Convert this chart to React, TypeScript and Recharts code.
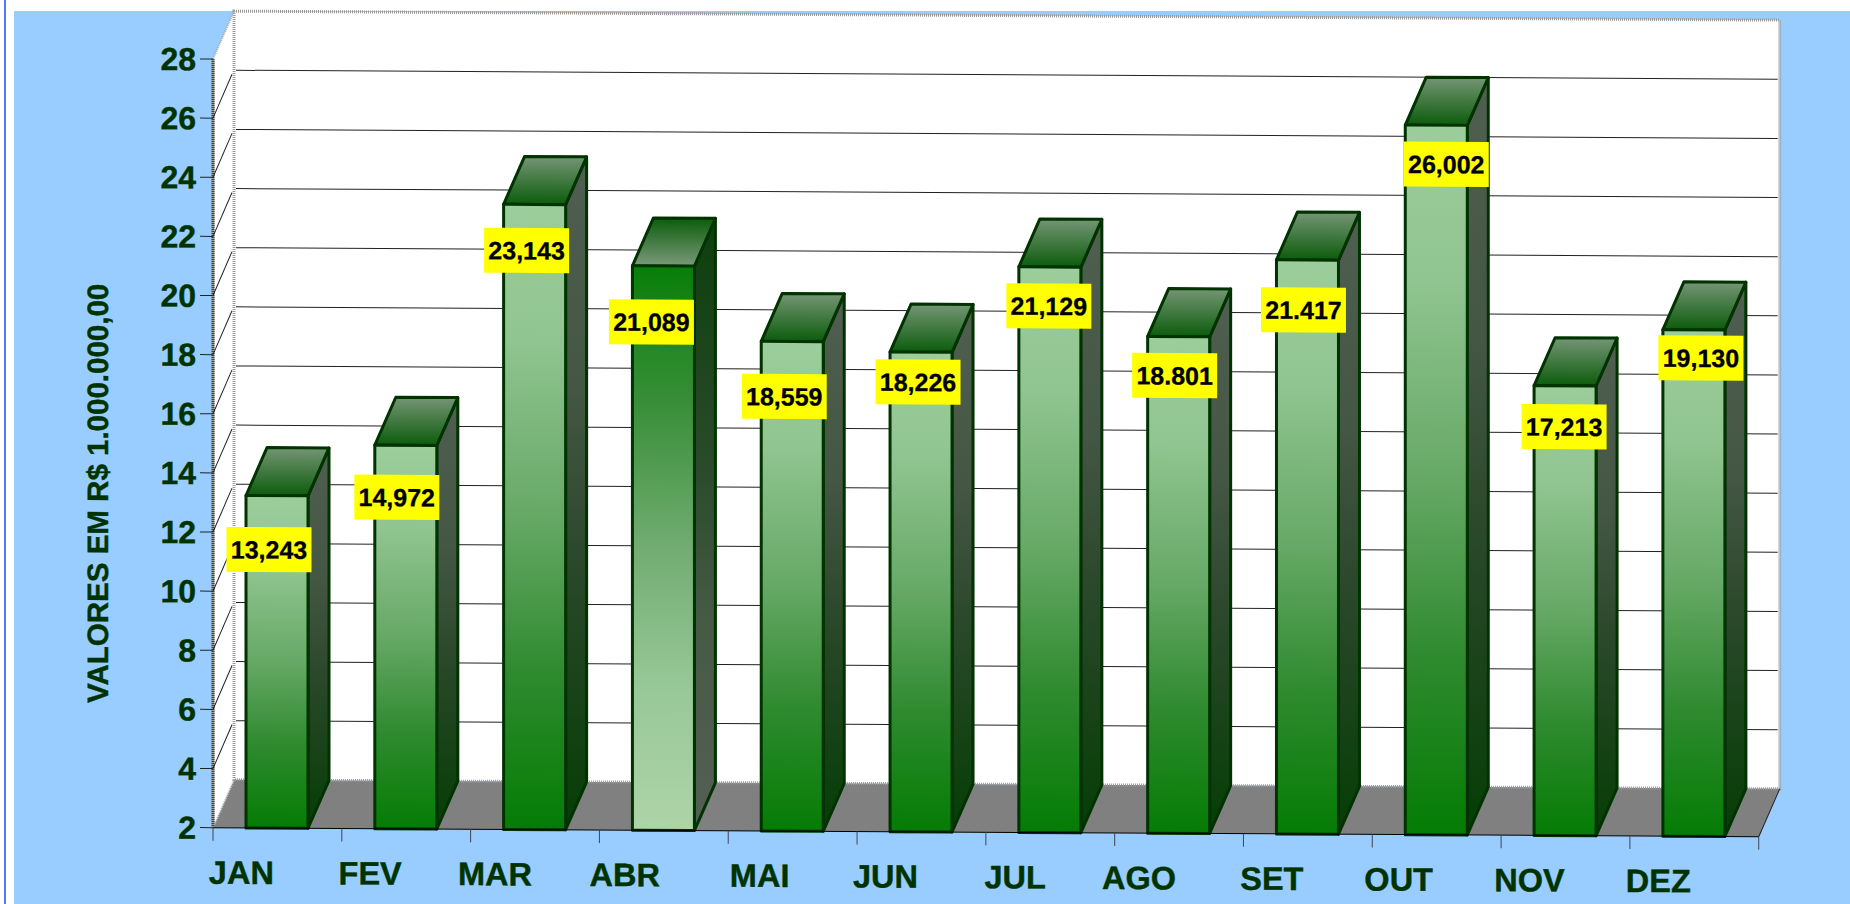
import { BarChart, Bar, XAxis, YAxis, CartesianGrid, ReferenceArea, LabelList } from "recharts"

const months = ["JAN", "FEV", "MAR", "ABR", "MAI", "JUN", "JUL", "AGO", "SET", "OUT", "NOV", "DEZ"]
const values = [13.243, 14.972, 23.143, 21.089, 18.559, 18.226, 21.129, 18.801, 21.417, 26.002, 17.213, 19.13]
const valueLabels = ["13,243", "14,972", "23,143", "21,089", "18,559", "18,226", "21,129", "18.801", "21.417", "26,002", "17,213", "19,130"]
const yTicks = [2, 4, 6, 8, 10, 12, 14, 16, 18, 20, 22, 24, 26, 28]
const gridValues = [4, 6, 8, 10, 12, 14, 16, 18, 20, 22, 24, 26]

// the yellow boxes and month names were dragged by hand in the original, so each has its own nudge
const labelNudgeX = [-8, -9, -8, -12, -8, -3, -1, -4, -4, 10, -1, 7]
const labelNudgeY = [54, 52, 46, 56, 55, 30, 39, 39, 50, 39, 41, 28]
const monthNudgeX = [0, 0, -4, -3, 3, 0, 1, -4, 0, -2, 0, 0]

const data = months.map((month, i) => ({ month, value: values[i], label: valueLabels[i] }))

const WIDTH = 1850
const HEIGHT = 904
const LEFT = 213
const TOP = 59
const RIGHT = 1758.7
const BOTTOM = 827.7
const STEP = (RIGHT - LEFT) / months.length
const DEPTH_X = 21
const DEPTH_Y = 48
const DARK = "#003300"
const FONT = '"Liberation Sans", Arial, sans-serif'

const pts = (list: number[][]) => list.map((p) => p.join(",")).join(" ")

function Walls({ x, y, width, height }: any) {
  const b = y + height
  const r = x + width
  const wx = x + DEPTH_X
  const dotted = { stroke: "#999", strokeWidth: 3, strokeDasharray: "1 1", fill: "none" }
  return (
    <g>
      <polygon points={pts([[x, y], [wx, y - DEPTH_Y], [wx, b - DEPTH_Y], [x, b]])} fill="#fff" />
      <rect x={wx} y={y - DEPTH_Y} width={width} height={height} fill="#fff" />
      <polygon points={pts([[x, b], [wx, b - DEPTH_Y], [r + DEPTH_X, b - DEPTH_Y], [r, b]])} fill="#808080" />
      <rect x={wx} y={y - DEPTH_Y} width={width} height={height} {...dotted} />
      <line x1={x} y1={y} x2={wx} y2={y - DEPTH_Y} stroke="#aaa" strokeWidth={2} strokeDasharray="1 1" />
      <line x1={x} y1={b} x2={wx} y2={b - DEPTH_Y} stroke="#ccc" strokeWidth={2} strokeDasharray="1 1" />
      <line x1={r} y1={b} x2={r + DEPTH_X} y2={b - DEPTH_Y} stroke="#222" strokeWidth={1} />
      <line x1={x} y1={y} x2={x} y2={b} stroke="#999" strokeWidth={3} />
      <line x1={x} y1={y} x2={x} y2={b} stroke="#444" strokeWidth={3} strokeDasharray="1 1" />
    </g>
  )
}

function GridLine({ x1, x2, y1 }: any) {
  return (
    <g>
      <line x1={x1} y1={y1} x2={x1 + DEPTH_X - 2} y2={y1 - DEPTH_Y + 4} stroke="#222" strokeWidth={1} />
      <line x1={x1 + DEPTH_X + 2} y1={y1 - DEPTH_Y} x2={x2 + DEPTH_X - 2} y2={y1 - DEPTH_Y} stroke="#222" strokeWidth={1} />
    </g>
  )
}

function Bar3D({ x, y, width, height, index }: any) {
  const kind = index === 3 ? "Rev" : ""
  const r = x + width
  const b = y + height
  const edge = { stroke: DARK, strokeWidth: 3, strokeLinejoin: "round" as const }
  return (
    <g>
      <polygon points={pts([[r, y], [r + DEPTH_X, y - DEPTH_Y], [r + DEPTH_X, b - DEPTH_Y], [r, b]])} fill={`url(#side${kind})`} {...edge} />
      <polygon points={pts([[x, y], [x + DEPTH_X, y - DEPTH_Y], [r + DEPTH_X, y - DEPTH_Y], [r, y]])} fill={`url(#top${kind})`} {...edge} />
      <rect x={x} y={y} width={width} height={height} fill={`url(#front${kind})`} {...edge} />
    </g>
  )
}

function ValueBox({ x, y, width, value, index }: any) {
  const cx = x + width / 2 + labelNudgeX[index]
  const cy = y + labelNudgeY[index]
  return (
    <g>
      <rect x={cx - 42.5} y={cy - 22.5} width={85} height={45} fill="#ffff00" />
      <text x={cx} y={cy + 9} textAnchor="middle" fontFamily={FONT} fontWeight="bold" fontSize={25} fill="#000" stroke="#000" strokeWidth={0.3}>
        {value}
      </text>
    </g>
  )
}

function MonthTick({ x, payload, index }: any) {
  return (
    <g>
      <line x1={x - STEP / 2} y1={BOTTOM} x2={x - STEP / 2} y2={BOTTOM + 13} stroke="#445" strokeWidth={1} />
      {index === months.length - 1 && (
        <line x1={x + STEP / 2} y1={BOTTOM} x2={x + STEP / 2} y2={BOTTOM + 13} stroke="#445" strokeWidth={1} />
      )}
      <text x={x - 36 + monthNudgeX[index]} y={BOTTOM + 56} textAnchor="middle" fontFamily={FONT} fontWeight="bold" fontSize={32.5} fill={DARK} stroke={DARK} strokeWidth={0.4}>
        {payload.value}
      </text>
    </g>
  )
}

function Gradient({ id, stops }: { id: string; stops: [number, string][] }) {
  return (
    <linearGradient id={id} x1="0" y1="0" x2="0" y2="1">
      {stops.map(([offset, color]) => (
        <stop key={offset} offset={`${offset}%`} stopColor={color} />
      ))}
    </linearGradient>
  )
}

export default function App() {
  return (
    <div style={{ position: "absolute", left: 0, top: 0, width: WIDTH, height: HEIGHT, overflow: "hidden", background: "#fff" }}>
      <div style={{ position: "absolute", left: 4, top: 0, width: 2, height: HEIGHT, background: "#5577ff" }} />
      <div style={{ position: "absolute", left: 14, top: 11, right: 0, bottom: 0, background: "#99ccff" }} />
      <div
        style={{
          position: "absolute",
          left: 0,
          top: 0,
          transformOrigin: `${LEFT}px ${BOTTOM}px`,
          transform: "skewY(0.334deg)",
        }}
      >
        <BarChart
          width={WIDTH}
          height={HEIGHT}
          data={data}
          barSize={62}
          margin={{ top: TOP, right: WIDTH - RIGHT, bottom: 16.3, left: 0 }}
          style={{ overflow: "visible" }}
        >
          <defs>
            <Gradient id="front" stops={[[0, "#9ccd9c"], [22, "#90c490"], [50, "#66a866"], [75, "#2f8a2f"], [100, "#047c04"]]} />
            <Gradient id="frontRev" stops={[[0, "#087e08"], [25, "#3a8f3a"], [50, "#72ac72"], [75, "#98c898"], [100, "#aed4a8"]]} />
            <Gradient id="side" stops={[[0, "#505f50"], [35, "#445644"], [60, "#2b482b"], [100, "#053d05"]]} />
            <Gradient id="sideRev" stops={[[0, "#0c3f0c"], [40, "#2a4a2a"], [65, "#455a45"], [100, "#555f55"]]} />
            <Gradient id="top" stops={[[0, "#759575"], [100, "#0c5c0c"]]} />
            <Gradient id="topRev" stops={[[0, "#0c5c0c"], [100, "#7a9a7a"]]} />
          </defs>
          <ReferenceArea y1={2} y2={28} ifOverflow="visible" zIndex={-200} shape={<Walls />} />
          <CartesianGrid vertical={false} horizontalValues={gridValues} horizontal={(props: any) => <GridLine key={props.key} {...props} />} />
          <XAxis
            dataKey="month"
            height={60}
            interval={0}
            tickSize={0}
            tickLine={false}
            axisLine={{ stroke: "#000", strokeWidth: 1 }}
            tick={<MonthTick />}
          />
          <YAxis
            type="number"
            domain={[2, 28]}
            ticks={yTicks}
            interval={0}
            width={LEFT}
            tickSize={13}
            tickMargin={4}
            tickLine={{ stroke: "#222", strokeWidth: 1 }}
            axisLine={false}
            tick={{ fill: DARK, stroke: DARK, strokeWidth: 0.4, fontFamily: FONT, fontWeight: "bold", fontSize: 32 }}
            label={{
              content: () => (
                <text
                  x={100}
                  y={494}
                  transform="rotate(-90 100 494)"
                  textAnchor="middle"
                  dominantBaseline="middle"
                  fontFamily={FONT}
                  fontWeight="bold"
                  fontSize={29.5}
                  fill={DARK}
                  stroke={DARK}
                  strokeWidth={0.4}
                >
                  VALORES EM R$ 1.000.000,00
                </text>
              ),
            }}
          />
          <Bar dataKey="value" isAnimationActive={false} shape={<Bar3D />}>
            <LabelList dataKey="label" content={<ValueBox />} />
          </Bar>
        </BarChart>
      </div>
    </div>
  )
}
